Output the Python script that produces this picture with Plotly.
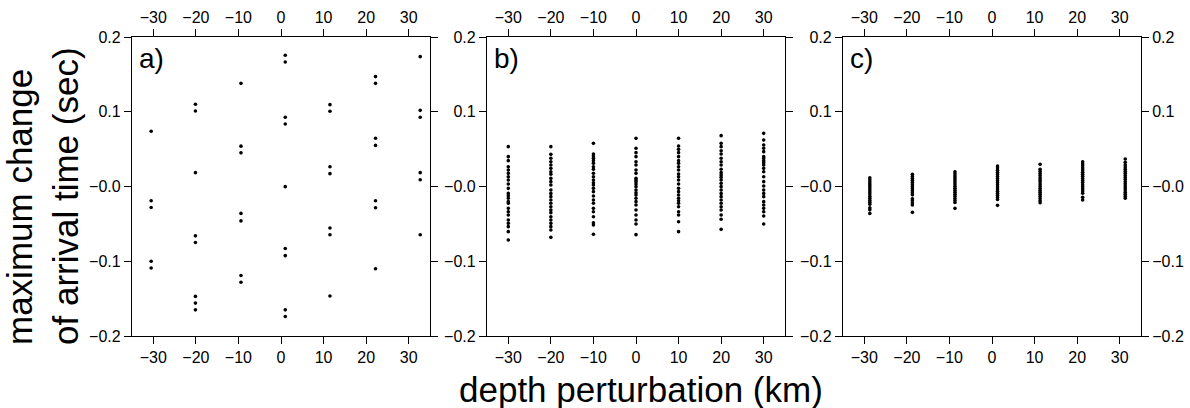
import plotly.graph_objects as go

# ---------------- data ----------------
x_ticks = [-30, -20, -10, 0, 10, 20, 30]
x_tick_labels = ["\u221230", "\u221220", "\u221210", "0", "10", "20", "30"]
y_ticks = [-0.2, -0.1, 0.0, 0.1, 0.2]
y_tick_labels = ["\u22120.2", "\u22120.1", "\u22120.0", "0.1", "0.2"]

# panel a: depth perturbation of each column and arrival-time changes (sec)
a_depth = [-30.5, -20.1, -9.4, 1.0, 11.5, 22.2, 32.7]
a_times = [
    [0.074, -0.019, -0.028, -0.100, -0.109],
    [0.110, 0.101, 0.0185, -0.066, -0.075, -0.147, -0.156, -0.165],
    [0.138, 0.054, 0.045, -0.036, -0.046, -0.119, -0.128],
    [0.1755, 0.1666, 0.0926, 0.0836, -0.0002, -0.083, -0.0925, -0.165, -0.174],
    [0.1095, 0.1006, 0.0265, 0.0172, -0.0555, -0.0645, -0.1465],
    [0.147, 0.138, 0.0645, 0.055, -0.019, -0.0284, -0.110],
    [0.1737, 0.1019, 0.0926, 0.0185, 0.009, -0.0645],
]

# panel b
b_depth = [-30, -20, -10, 0, 10, 20, 30]
b_times = [
    [0.0533, 0.0399, 0.0346, 0.0265, 0.0221, 0.0176, 0.0131, 0.0087, 0.0033, -0.0025,
     -0.0092, -0.0123, -0.0158, -0.0203, -0.0225, -0.0292, -0.0337, -0.0381, -0.0448,
     -0.0493, -0.0537, -0.0604, -0.0716],
    [0.0533, 0.0430, 0.0377, 0.0332, 0.0288, 0.0243, 0.0198, 0.0163, 0.0109, 0.0065,
     0.0020, -0.0047, -0.0092, -0.0136, -0.0181, -0.0225, -0.0270, -0.0314, -0.0350,
     -0.0404, -0.0448, -0.0493, -0.0537, -0.0582, -0.0680],
    [0.0577, 0.0435, 0.0408, 0.0377, 0.0346, 0.0310, 0.0265, 0.0230, 0.0176, 0.0131,
     0.0087, 0.0051, 0.0020, -0.0025, -0.0069, -0.0127, -0.0181, -0.0225, -0.0292,
     -0.0337, -0.0404, -0.0484, -0.0515, -0.0640],
    [0.0644, 0.0511, 0.0453, 0.0399, 0.0332, 0.0288, 0.0221, 0.0176, 0.0109, 0.0087,
     0.0065, 0.0033, -0.0002, -0.0047, -0.0083, -0.0114, -0.0158, -0.0203, -0.0248,
     -0.0314, -0.0381, -0.0448, -0.0502, -0.0644],
    [0.0644, 0.0542, 0.0497, 0.0453, 0.0399, 0.0346, 0.0310, 0.0265, 0.0221, 0.0167,
     0.0131, 0.0087, 0.0033, -0.0025, -0.0069, -0.0114, -0.0158, -0.0190, -0.0225,
     -0.0270, -0.0337, -0.0381, -0.0471, -0.0604],
    [0.0680, 0.0577, 0.0533, 0.0479, 0.0435, 0.0377, 0.0332, 0.0288, 0.0230, 0.0185,
     0.0154, 0.0123, 0.0087, 0.0042, -0.0002, -0.0047, -0.0092, -0.0136, -0.0181,
     -0.0225, -0.0270, -0.0314, -0.0381, -0.0439, -0.0573],
    [0.0711, 0.0622, 0.0555, 0.0511, 0.0466, 0.0399, 0.0377, 0.0346, 0.0319, 0.0288,
     0.0243, 0.0198, 0.0131, 0.0065, 0.0007, -0.0047, -0.0092, -0.0136, -0.0203,
     -0.0248, -0.0292, -0.0337, -0.0395, -0.0502],
]

# panel c
c_depth = [-28.7, -18.7, -8.7, 1.3, 11.3, 21.3, 31.3]
c_times = [
    [0.0118, 0.0090, 0.0062, 0.0035, 0.0008, -0.0020, -0.0048, -0.0075, -0.0102,
     -0.0130, -0.0158, -0.0185, -0.0212, -0.0238, -0.0285, -0.0310, -0.0360],
    [0.0163, 0.0135, 0.0108, 0.0080, 0.0052, 0.0025, -0.0003, -0.0030, -0.0058,
     -0.0085, -0.0112, -0.0165, -0.0192, -0.0220, -0.0248, -0.0346],
    [0.0198, 0.0170, 0.0142, 0.0115, 0.0088, 0.0060, 0.0033, 0.0005, -0.0022,
     -0.0050, -0.0078, -0.0105, -0.0132, -0.0160, -0.0188, -0.0215, -0.0292],
    [0.0274, 0.0246, 0.0218, 0.0190, 0.0162, 0.0134, 0.0106, 0.0078, 0.0050, 0.0022,
     -0.0006, -0.0034, -0.0062, -0.0090, -0.0118, -0.0146, -0.0174, -0.0252],
    [0.0297, 0.0230, 0.0202, 0.0174, 0.0146, 0.0118, 0.0090, 0.0062, 0.0034, 0.0006,
     -0.0022, -0.0050, -0.0078, -0.0106, -0.0134, -0.0162, -0.0190, -0.0218],
    [0.0332, 0.0304, 0.0276, 0.0248, 0.0220, 0.0192, 0.0164, 0.0136, 0.0108, 0.0080,
     0.0052, 0.0024, -0.0004, -0.0032, -0.0060, -0.0091, -0.0145, -0.0180],
    [0.0368, 0.0323, 0.0288, 0.0260, 0.0232, 0.0204, 0.0176, 0.0148, 0.0120, 0.0092,
     0.0064, 0.0036, 0.0008, -0.0020, -0.0048, -0.0076, -0.0104, -0.0132, -0.0158],
]

panel_labels = ["a)", "b)", "c)"]
x_title = "depth perturbation (km)"
y_title = "maximum change<br>of arrival time (sec)"

# ---------------- figure ----------------
W, H = 1190, 408
FONT = "Liberation Sans, Arial, Helvetica, sans-serif"
panel_px = [(132, 430), (487, 785), (843, 1141)]
top_px, bot_px = 37, 336
ydom = [1 - bot_px / H, 1 - top_px / H]

fig = go.Figure()

panels = [(a_depth, a_times), (b_depth, b_times), (c_depth, c_times)]
for i, (depths, times) in enumerate(panels):
    xs, ys = [], []
    for d, col in zip(depths, times):
        xs.extend([d] * len(col))
        ys.extend(col)
    sfx = "" if i == 0 else str(i + 1)
    fig.add_trace(go.Scatter(
        x=xs, y=ys, mode="markers",
        marker=dict(color="black", size=3.6, line=dict(width=0)),
        xaxis="x" + sfx, yaxis="y" + sfx, showlegend=False, hoverinfo="skip",
    ))

tickfont = dict(family=FONT, size=16, color="black")
common = dict(showgrid=False, zeroline=False, fixedrange=True, automargin=False,
              ticks="outside", ticklen=7, tickwidth=1, tickcolor="black",
              tickfont=tickfont)

layout = dict(
    width=W, height=H, margin=dict(l=0, r=0, t=0, b=0),
    paper_bgcolor="white", plot_bgcolor="white",
    font=dict(family=FONT, color="black"),
)

for i, (l, r) in enumerate(panel_px):
    xdom = [l / W, r / W]
    sfx = "" if i == 0 else str(i + 1)
    xname = "xaxis" + sfx
    yname = "yaxis" + sfx
    layout[xname] = dict(domain=xdom, anchor="y" + sfx, range=[-35, 35],
                         tickvals=x_ticks, ticktext=x_tick_labels,
                         showline=True, linecolor="black", linewidth=1.3,
                         mirror="allticks", **common)
    layout[yname] = dict(domain=ydom, anchor="x" + sfx, range=[-0.2, 0.2],
                         tickvals=y_ticks, ticktext=y_tick_labels,
                         showline=True, linecolor="black", linewidth=1.3,
                         mirror="allticks", **common)
    # top labelled axis
    tname = "xaxis" + str(i + 4)
    layout[tname] = dict(overlaying="x" + sfx, side="top", anchor="y" + sfx,
                         range=[-35, 35], tickvals=x_ticks, ticktext=x_tick_labels,
                         showline=False, **common)

# right labelled y axis for panel c
layout["yaxis4"] = dict(overlaying="y3", side="right", anchor="x3",
                        range=[-0.2, 0.2], tickvals=y_ticks, ticktext=y_tick_labels,
                        showline=False, **common)

fig.update_layout(**layout)

# invisible traces so the overlay axes are drawn
for ax, base in [("x4", "y"), ("x5", "y2"), ("x6", "y3")]:
    fig.add_trace(go.Scatter(x=[None], y=[None], xaxis=ax, yaxis=base,
                             showlegend=False, hoverinfo="skip"))
fig.add_trace(go.Scatter(x=[None], y=[None], xaxis="x3", yaxis="y4",
                         showlegend=False, hoverinfo="skip"))

annotations = []
for (l, r), lab in zip(panel_px, panel_labels):
    annotations.append(dict(text=lab, x=(l + 5) / W, y=1 - 41 / H, xref="paper",
                            yref="paper", xanchor="left", yanchor="top",
                            showarrow=False, font=dict(family=FONT, size=28, color="black")))
annotations.append(dict(text=x_title, x=641 / W, y=1 - 389 / H, xref="paper", yref="paper",
                        xanchor="center", yanchor="middle", showarrow=False,
                        font=dict(family=FONT, size=35, color="black")))
annotations.append(dict(text=y_title, x=42 / W, y=1 - 196 / H, xref="paper", yref="paper",
                        xanchor="center", yanchor="middle", showarrow=False, textangle=-90,
                        align="left",
                        font=dict(family=FONT, size=35, color="black")))
fig.update_layout(annotations=annotations)

fig.write_html("out.html")
